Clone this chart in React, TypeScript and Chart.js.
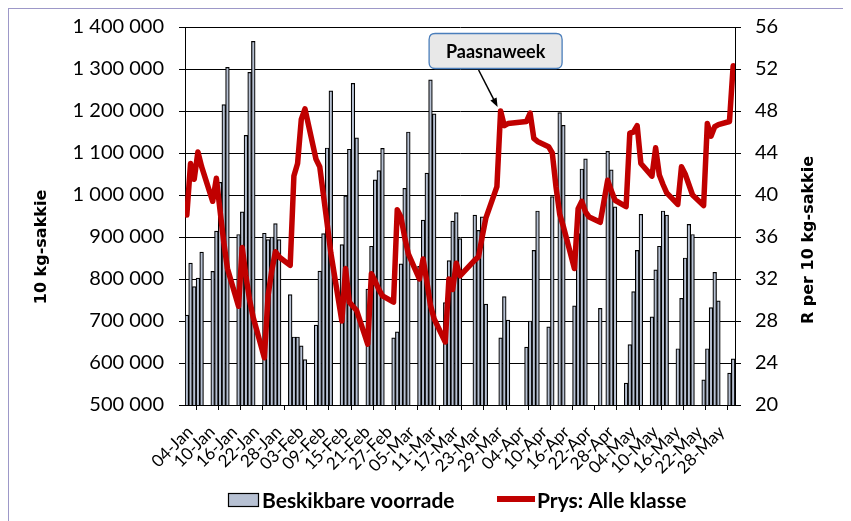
import React, { useEffect, useRef } from 'react';
import { Chart, registerables } from 'chart.js';

Chart.register(...registerables);

// ---- data (2010, trading days) ----
const dates = [
  '2010-01-04', '2010-01-05', '2010-01-06', '2010-01-07', '2010-01-08',
  '2010-01-11', '2010-01-12', '2010-01-13', '2010-01-14', '2010-01-15',
  '2010-01-18', '2010-01-19', '2010-01-20', '2010-01-21', '2010-01-22',
  '2010-01-25', '2010-01-26', '2010-01-27', '2010-01-28', '2010-01-29',
  '2010-02-01', '2010-02-02', '2010-02-03', '2010-02-04', '2010-02-05',
  '2010-02-08', '2010-02-09', '2010-02-10', '2010-02-11', '2010-02-12',
  '2010-02-15', '2010-02-16', '2010-02-17', '2010-02-18', '2010-02-19',
  '2010-02-22', '2010-02-23', '2010-02-24', '2010-02-25', '2010-02-26',
  '2010-03-01', '2010-03-02', '2010-03-03', '2010-03-04', '2010-03-05',
  '2010-03-08', '2010-03-09', '2010-03-10', '2010-03-11', '2010-03-12',
  '2010-03-15', '2010-03-16', '2010-03-17', '2010-03-18', '2010-03-19',
  '2010-03-23', '2010-03-24', '2010-03-25', '2010-03-26',
  '2010-03-29', '2010-03-30', '2010-03-31', '2010-04-01',
  '2010-04-06', '2010-04-07', '2010-04-08', '2010-04-09',
  '2010-04-12', '2010-04-13', '2010-04-14', '2010-04-15', '2010-04-16',
  '2010-04-19', '2010-04-20', '2010-04-21', '2010-04-22', '2010-04-23',
  '2010-04-26', '2010-04-28', '2010-04-29', '2010-04-30',
  '2010-05-03', '2010-05-04', '2010-05-05', '2010-05-06', '2010-05-07',
  '2010-05-10', '2010-05-11', '2010-05-12', '2010-05-13', '2010-05-14',
  '2010-05-17', '2010-05-18', '2010-05-19', '2010-05-20', '2010-05-21',
  '2010-05-24', '2010-05-25', '2010-05-26', '2010-05-27', '2010-05-28',
  '2010-05-31', '2010-06-01',
];

// Beskikbare voorrade (10 kg-sakkie)
const stock: (number | null)[] = [
  714000, 838000, 782000, 802000, 864000,
  818000, 914000, 1030000, 1215000, 1304000,
  906000, 960000, 1142000, 1292000, 1366000,
  909000, 894000, 900000, 932000, 894000,
  763000, 662000, 662000, 641000, 608000,
  690000, 819000, 908000, 1112000, 1248000,
  882000, 998000, 1109000, 1266000, 1136000,
  776000, 878000, 1036000, 1058000, 1111000,
  660000, 674000, 836000, 1016000, 1150000,
  830000, 940000, 1052000, 1274000, 1193000,
  744000, 844000, 938000, 958000, 896000,
  952000, 916000, 948000, 740000,
  null, 660000, 758000, 702000,
  638000, 700000, 868000, 962000,
  686000, 996000, null, 1196000, 1166000,
  736000, 908000, 1062000, 1086000, null,
  730000, 1104000, 1060000, 972000,
  552000, 644000, 770000, 868000, 954000,
  710000, 822000, 878000, 962000, 952000,
  634000, 754000, 850000, 930000, 906000,
  560000, 634000, 732000, 816000, 748000,
  576000, 610000,
];

// Prys: Alle klasse (R per 10 kg-sakkie)
const price: (number | null)[] = [
  38.1, 43.0, 41.5, 44.1, 42.7,
  39.4, 41.6, 38.5, 35.5, 33.0,
  29.4, 35.0, 32.3, 30.0, 28.3,
  24.5, 30.4, 32.8, 34.6, 34.1,
  33.3, 41.8, 43.0, 47.2, 48.2,
  43.4, 42.7, 40.0, 37.3, 34.5,
  28.0, 33.0, 29.8, 29.4, 29.0,
  25.8, 32.5, 31.8, 31.0, 30.4,
  29.8, 38.6, 37.9, 36.0, 34.4,
  32.0, 33.9, 31.8, 29.5, 28.2,
  26.0, 32.0, 31.0, 33.5, 32.3,
  33.8, 34.1, 36.0, 37.8,
  40.8, 48.0, 46.6, 46.8,
  47.0, 47.8, 45.4, 45.1,
  44.6, 44.0, 40.8, 38.2, 37.0,
  33.0, 38.7, 39.4, 38.4, 37.9,
  37.4, 41.4, 40.4, 39.5,
  38.9, 45.9, 46.0, 46.6, 43.0,
  41.8, 44.5, 41.9, 41.0, 40.2,
  39.1, 42.7, 42.0, 41.0, 40.0,
  39.0, 46.8, 45.6, 46.5, 46.7,
  47.0, 52.3,
];

const tickLabels = [
  '04-Jan', '10-Jan', '16-Jan', '22-Jan', '28-Jan', '03-Feb', '09-Feb', '15-Feb',
  '21-Feb', '27-Feb', '05-Mar', '11-Mar', '17-Mar', '23-Mar', '29-Mar', '04-Apr',
  '10-Apr', '16-Apr', '22-Apr', '28-Apr', '04-May', '10-May', '16-May', '22-May', '28-May',
];

const START_DATE = '2010-01-04';
const END_DATE = '2010-06-02';
const TICK_STEP_DAYS = 6;
const ANNOTATION_DATE = '2010-03-30';
const ANNOTATION_TEXT = 'Paasnaweek';

const leftTitle = '10 kg-sakkie';
const rightTitle = 'R per 10 kg-sakkie';
const barLabel = 'Beskikbare voorrade';
const lineLabel = 'Prys: Alle klasse';

const BAR_FILL = '#b7c1d3';
const LINE_COLOR = '#c00000';

const dayIndex = (s: string) =>
  (Date.UTC(+s.slice(0, 4), +s.slice(5, 7) - 1, +s.slice(8, 10)) -
    Date.UTC(+START_DATE.slice(0, 4), +START_DATE.slice(5, 7) - 1, +START_DATE.slice(8, 10))) /
  86400000;

const fmtThousands = (v: number) => String(v).replace(/\B(?=(\d{3})+(?!\d))/g, ' ');

const decorPlugin = {
  id: 'decor',
  afterDraw(chart: any) {
    const { ctx, chartArea, scales } = chart;
    ctx.save();
    // axis titles
    ctx.fillStyle = '#000';
    ctx.font = 'bold 16px "DejaVu Sans"';
    ctx.textAlign = 'center';
    ctx.textBaseline = 'middle';
    ctx.save();
    ctx.translate(chartArea.left - 143, (chartArea.top + chartArea.bottom) / 2 + 31);
    ctx.rotate(-Math.PI / 2);
    ctx.fillText(leftTitle, 0, 0);
    ctx.restore();
    ctx.save();
    ctx.translate(chartArea.right + 74, (chartArea.top + chartArea.bottom) / 2 + 24);
    ctx.rotate(-Math.PI / 2);
    ctx.fillText(rightTitle, 0, 0);
    ctx.restore();

    // legend
    const ly = chartArea.bottom + 95;
    ctx.fillStyle = BAR_FILL;
    ctx.strokeStyle = '#000';
    ctx.lineWidth = 1.2;
    ctx.fillRect(219.5, ly - 6.5, 30, 13);
    ctx.strokeRect(219.5, ly - 6.5, 30, 13);
    ctx.fillStyle = '#000';
    ctx.font = 'bold 21px Lato';
    ctx.textAlign = 'left';
    ctx.textBaseline = 'middle';
    ctx.fillText(barLabel, 253, ly + 1);
    ctx.strokeStyle = LINE_COLOR;
    ctx.lineWidth = 6;
    ctx.lineCap = 'butt';
    ctx.beginPath();
    ctx.moveTo(488, ly - 1);
    ctx.lineTo(526, ly - 1);
    ctx.stroke();
    ctx.fillText(lineLabel, 528, ly + 1);

    // annotation
    const xs = scales.x;
    const ys = scales.y1;
    const i = dates.indexOf(ANNOTATION_DATE);
    const px = xs.getPixelForValue(dayIndex(ANNOTATION_DATE) + 0.5);
    const py = ys.getPixelForValue(price[i] as number);
    const tipX = px - 3, tipY = py - 4;
    const sx = px - 22, sy = py - 41;
    ctx.strokeStyle = '#000';
    ctx.fillStyle = '#000';
    ctx.lineWidth = 1.5;
    ctx.beginPath();
    ctx.moveTo(sx, sy);
    const ang = Math.atan2(tipY - sy, tipX - sx);
    const hl = 9;
    ctx.lineTo(tipX - hl * 0.8 * Math.cos(ang), tipY - hl * 0.8 * Math.sin(ang));
    ctx.stroke();
    ctx.beginPath();
    ctx.moveTo(tipX, tipY);
    ctx.lineTo(tipX - hl * Math.cos(ang) + 3.5 * Math.sin(ang), tipY - hl * Math.sin(ang) - 3.5 * Math.cos(ang));
    ctx.lineTo(tipX - hl * Math.cos(ang) - 3.5 * Math.sin(ang), tipY - hl * Math.sin(ang) + 3.5 * Math.cos(ang));
    ctx.closePath();
    ctx.fill();

    const bw = 133, bh = 35, r = 6;
    const bx = px - 5 - bw / 2, by = py - 60 - bh / 2;
    ctx.beginPath();
    ctx.moveTo(bx + r, by);
    ctx.lineTo(bx + bw - r, by);
    ctx.quadraticCurveTo(bx + bw, by, bx + bw, by + r);
    ctx.lineTo(bx + bw, by + bh - r);
    ctx.quadraticCurveTo(bx + bw, by + bh, bx + bw - r, by + bh);
    ctx.lineTo(bx + r, by + bh);
    ctx.quadraticCurveTo(bx, by + bh, bx, by + bh - r);
    ctx.lineTo(bx, by + r);
    ctx.quadraticCurveTo(bx, by, bx + r, by);
    ctx.closePath();
    ctx.fillStyle = '#e8e8e8';
    ctx.fill();
    ctx.strokeStyle = '#4a7ebb';
    ctx.lineWidth = 1.3;
    ctx.stroke();
    ctx.fillStyle = '#000';
    ctx.font = 'bold 18px Lato';
    ctx.textAlign = 'center';
    ctx.textBaseline = 'middle';
    ctx.fillText(ANNOTATION_TEXT, px - 5, py - 59);
    ctx.restore();
  },
};

export default function App() {
  const ref = useRef<HTMLCanvasElement | null>(null);

  useEffect(() => {
    if (!ref.current) return;
    const barData = dates
      .map((d, i) => (stock[i] == null ? null : { x: dayIndex(d) + 0.5, y: stock[i] }))
      .filter(Boolean);
    const lineData = dates
      .map((d, i) => (price[i] == null ? null : { x: dayIndex(d) + 0.5, y: price[i] }))
      .filter(Boolean);
    const tickFont = { family: 'Lato', size: 20 };
    const noVertPad = (s: any) => {
      s.paddingTop = 0;
      s.paddingBottom = 0;
    };

    const chart = new Chart(ref.current, {
      type: 'bar',
      data: {
        datasets: [
          {
            type: 'line',
            label: lineLabel,
            data: lineData as any,
            yAxisID: 'y1',
            borderColor: LINE_COLOR,
            backgroundColor: LINE_COLOR,
            borderWidth: 5.5,
            pointRadius: 0,
            tension: 0,
            borderJoinStyle: 'round',
            borderCapStyle: 'round',
            order: 0,
          } as any,
          {
            type: 'bar',
            label: barLabel,
            data: barData as any,
            yAxisID: 'y',
            backgroundColor: BAR_FILL,
            borderColor: '#000',
            borderWidth: 1.2,
            barThickness: 3.7,
            order: 1,
          } as any,
        ],
      },
      options: {
        animation: false,
        responsive: false,
        layout: { padding: { top: 18, left: 0, right: 0, bottom: 0 } },
        plugins: { legend: { display: false }, tooltip: { enabled: false } },
        scales: {
          x: {
            type: 'linear',
            min: 0,
            max: dayIndex(END_DATE),
            offset: false,
            afterBuildTicks: (s: any) => {
              s.ticks = tickLabels.map((_, i) => ({ value: i * TICK_STEP_DAYS }));
            },
            afterFit: (s: any) => {
              s.height = 116;
            },
            ticks: {
              autoSkip: false,
              minRotation: 45,
              maxRotation: 45,
              font: { family: 'Lato', size: 17 },
              color: '#000',
              padding: 12,
              labelOffset: 5,
              callback: (_v: any, i: number) => tickLabels[i],
            },
            grid: { drawOnChartArea: false, drawTicks: true, tickLength: 5, color: '#000' },
            border: { color: '#000', width: 1 },
          },
          y: {
            position: 'left',
            min: 500000,
            max: 1400000,
            afterFit: (s: any) => {
              s.width = 176;
              noVertPad(s);
            },
            ticks: {
              stepSize: 100000,
              font: tickFont,
              color: '#000',
              padding: 15,
              callback: (v: any) => fmtThousands(Number(v)),
            },
            grid: { color: '#000', tickLength: 6 },
            border: { color: '#000', width: 1 },
          },
          y1: {
            position: 'right',
            min: 20,
            max: 56,
            afterFit: (s: any) => {
              s.width = 116;
              noVertPad(s);
            },
            ticks: { stepSize: 4, font: tickFont, color: '#000', padding: 14 },
            grid: { drawOnChartArea: false, color: '#000', tickLength: 6 },
            border: { color: '#000', width: 1 },
          },
        },
      } as any,
      plugins: [decorPlugin],
    });
    return () => chart.destroy();
  }, []);

  return (
    <div
      style={{
        width: 842,
        height: 512,
        borderLeft: '1px solid #9d98c8',
        borderTop: '1px solid #9d98c8',
        background: '#fff',
      }}
    >
      <canvas ref={ref} width={842} height={512} style={{ display: 'block', width: 842, height: 512 }} />
    </div>
  );
}
